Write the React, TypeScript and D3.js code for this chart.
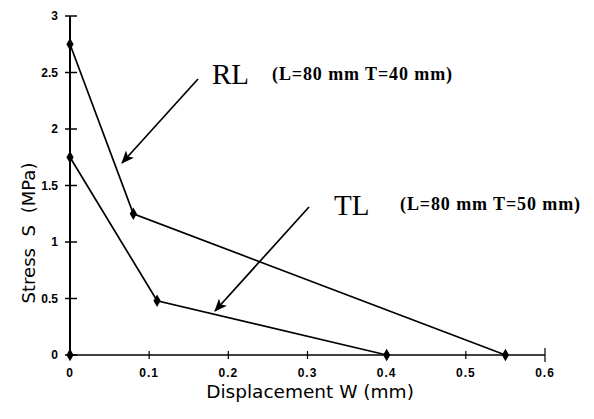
import React from "react";
import * as d3 from "d3";

const xTicks = [0, 0.1, 0.2, 0.3, 0.4, 0.5, 0.6];
const yTicks = [0, 0.5, 1, 1.5, 2, 2.5, 3];
const rlX = [0, 0.08, 0.55];
const rlY = [2.75, 1.25, 0];
const tlX = [0, 0.11, 0.4];
const tlY = [1.75, 0.48, 0];
const originX = [0];
const originY = [0];

const W = 594, H = 419;

export default function App() {
  const x = d3.scaleLinear().domain([0, 0.6]).range([70, 545]);
  const y = d3.scaleLinear().domain([0, 3]).range([355, 16]);
  const line = d3.line<[number, number]>().x(d => x(d[0])).y(d => y(d[1]));
  const rl = rlX.map((v, i) => [v, rlY[i]] as [number, number]);
  const tl = tlX.map((v, i) => [v, tlY[i]] as [number, number]);
  const pts = [...rl, ...tl, ...originX.map((v, i) => [v, originY[i]] as [number, number])];
  const diamond = d3.symbol().type(d3.symbolDiamond).size(45)();
  const tickFont = "'Liberation Sans', Arial, sans-serif";
  const serif = "'Liberation Serif', 'Times New Roman', serif";
  return (
    <svg width={W} height={H} style={{ position: "absolute", left: 0, top: 0, background: "#fff" }}>
      <defs>
        <marker id="ah" viewBox="0 0 12 10" refX="11" refY="5" markerWidth="13" markerHeight="11" markerUnits="userSpaceOnUse" orient="auto">
          <path d="M0,0 L12,5 L0,10 L3,5 Z" fill="#000" />
        </marker>
      </defs>
      {/* axes */}
      <line x1={x(0)} x2={x(0.6)} y1={y(0)} y2={y(0)} stroke="#000" strokeWidth={1.5} />
      <line x1={x(0)} x2={x(0)} y1={y(0)} y2={y(3)} stroke="#000" strokeWidth={2} />
      {yTicks.map(t => (
        <g key={"y" + t}>
          <line x1={x(0) - 5} x2={x(0) + 7} y1={y(t)} y2={y(t)} stroke="#000" strokeWidth={1.5} />
          <text x={58} y={y(t)} dy="0.35em" textAnchor="end" fontFamily={tickFont} fontWeight="bold" fontSize={12}>{t}</text>
        </g>
      ))}
      {xTicks.map(t => (
        <g key={"x" + t}>
          <line x1={x(t)} x2={x(t)} y1={y(0) - (t === 0.6 ? 7 : 4)} y2={y(0) + (t === 0.6 ? 7 : 4)} stroke="#000" strokeWidth={1.2} />
          <text x={x(t)} y={377} textAnchor="middle" fontFamily={tickFont} fontWeight="bold" fontSize={12} letterSpacing={1}>{t}</text>
        </g>
      ))}
      {/* series */}
      <path d={line(rl) || ""} fill="none" stroke="#000" strokeWidth={1.7} />
      <path d={line(tl) || ""} fill="none" stroke="#000" strokeWidth={1.7} />
      {pts.map((p, i) => (
        <path key={i} d={diamond || ""} transform={`translate(${x(p[0])},${y(p[1])})`} fill="#000" />
      ))}
      {/* annotations */}
      <line x1={198} y1={79} x2={122} y2={163} stroke="#000" strokeWidth={1.7} markerEnd="url(#ah)" />
      <line x1={309} y1={207} x2={215} y2={311} stroke="#000" strokeWidth={1.7} markerEnd="url(#ah)" />
      <text x={212} y={84} fontFamily={serif} fontSize={29}>RL</text>
      <text x={272} y={80} fontFamily={serif} fontWeight="bold" fontSize={18} letterSpacing={0.9}>(L=80 mm T=40 mm)</text>
      <text x={334} y={215} fontFamily={serif} fontSize={29}>TL</text>
      <text x={400} y={210} fontFamily={serif} fontWeight="bold" fontSize={18} letterSpacing={0.9}>(L=80 mm T=50 mm)</text>
      {/* axis titles */}
      <text x={310} y={398} textAnchor="middle" fontFamily="'DejaVu Sans', sans-serif" fontSize={18.5}>Displacement W (mm)</text>
      <text transform="translate(35,233) rotate(-90)" textAnchor="middle" fontFamily="'DejaVu Sans', sans-serif" fontSize={18} wordSpacing={6}>Stress S (MPa)</text>
    </svg>
  );
}
